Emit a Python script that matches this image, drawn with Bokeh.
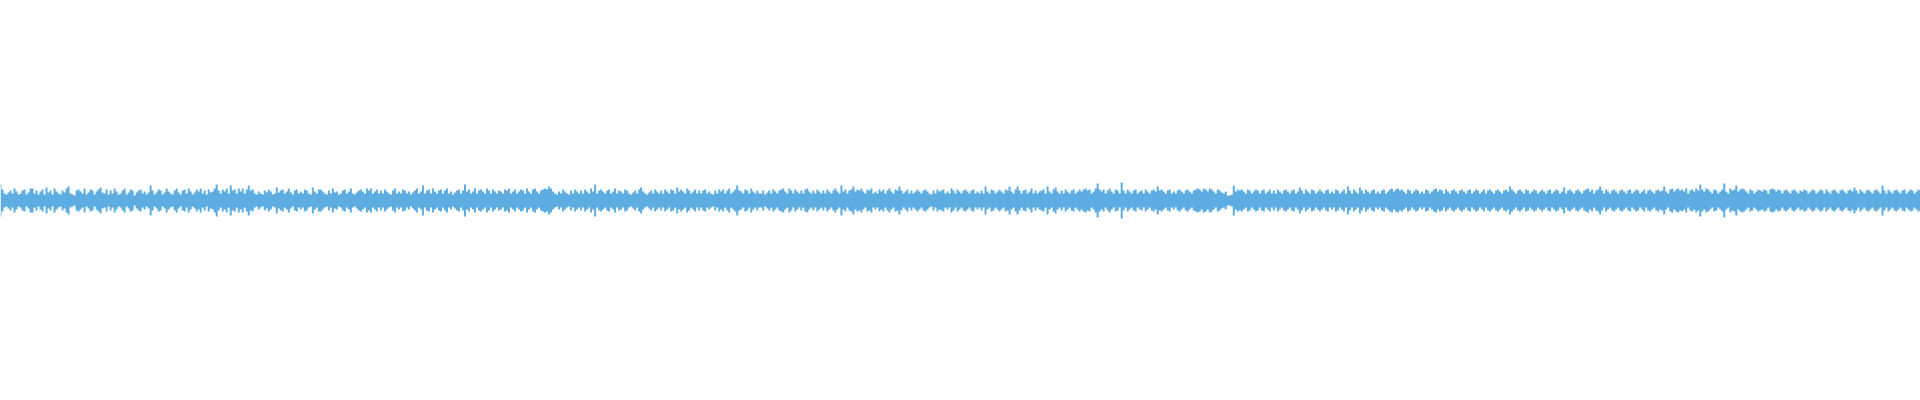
from bokeh.plotting import figure
from bokeh.models import Range1d
from bokeh.embed import file_html
from bokeh.resources import INLINE

# Waveform half-amplitudes, one per bar, left to right
amplitude = [
    16, 11, 7, 6, 8, 10, 7, 12, 9, 6,
    7, 10, 11, 6, 8, 12, 12, 7, 10, 6,
    9, 11, 6, 13, 8, 10, 6, 12, 9, 7,
    6, 10, 8, 12, 14, 7, 6, 5, 10, 11,
    9, 7, 12, 6, 8, 11, 10, 6, 9, 11,
    13, 8, 7, 11, 6, 10, 7, 12, 9, 6,
    7, 10, 12, 6, 8, 11, 10, 5, 8, 10,
    11, 7, 9, 6, 8, 15, 10, 6, 8, 11,
    10, 6, 8, 12, 9, 7, 6, 10, 12, 8,
    6, 10, 11, 7, 12, 9, 6, 8, 11, 9,
    12, 7, 10, 6, 11, 8, 9, 12, 16, 10,
    7, 11, 9, 12, 7, 15, 10, 11, 7, 12,
    9, 12, 7, 11, 15, 10, 11, 7, 6, 9,
    7, 6, 10, 8, 11, 9, 6, 7, 13, 8,
    10, 11, 7, 9, 12, 8, 6, 10, 11, 7,
    9, 7, 11, 10, 7, 6, 13, 9, 7, 11,
    11, 9, 7, 6, 10, 7, 12, 8, 9, 6,
    7, 10, 11, 7, 9, 12, 7, 6, 8, 10,
    11, 9, 7, 12, 10, 12, 7, 9, 11, 7,
    10, 7, 11, 9, 7, 6, 10, 12, 7, 9,
    7, 11, 10, 7, 9, 6, 8, 10, 12, 7,
    9, 15, 7, 10, 11, 7, 12, 9, 7, 10,
    11, 7, 10, 12, 7, 9, 6, 8, 10, 11,
    7, 10, 16, 9, 11, 7, 9, 12, 7, 10,
    11, 9, 7, 12, 10, 7, 11, 9, 7, 10,
    9, 7, 11, 10, 12, 7, 9, 11, 7, 9,
    11, 10, 7, 12, 9, 7, 11, 12, 9, 7,
    10, 11, 12, 11, 14, 12, 9, 7, 6, 9,
    7, 11, 9, 7, 6, 10, 7, 11, 9, 7,
    10, 7, 11, 9, 7, 12, 9, 16, 7, 10,
    11, 9, 7, 10, 11, 7, 9, 12, 7, 10,
    9, 7, 11, 10, 7, 6, 8, 10, 7, 11,
    13, 9, 7, 6, 8, 10, 7, 11, 9, 7,
    10, 7, 11, 9, 7, 11, 10, 7, 13, 9,
    11, 9, 7, 12, 10, 7, 9, 11, 7, 10,
    7, 10, 11, 7, 9, 7, 6, 10, 7, 11,
    9, 11, 7, 10, 12, 7, 9, 11, 15, 10,
    9, 7, 11, 10, 7, 12, 9, 7, 10, 7,
    7, 10, 6, 8, 10, 7, 11, 9, 7, 10,
    11, 12, 9, 7, 12, 10, 7, 11, 9, 7,
    10, 7, 11, 12, 9, 7, 10, 7, 11, 9,
    7, 10, 7, 11, 9, 7, 10, 12, 9, 7,
    15, 9, 11, 7, 10, 11, 14, 9, 11, 10,
    12, 9, 7, 11, 10, 12, 7, 9, 7, 11,
    9, 11, 7, 10, 12, 9, 7, 11, 10, 14,
    10, 7, 9, 11, 7, 10, 7, 9, 11, 9,
    7, 10, 11, 9, 7, 6, 10, 7, 11, 9,
    10, 11, 7, 9, 7, 12, 10, 7, 11, 9,
    7, 10, 11, 9, 7, 10, 11, 7, 9, 7,
    10, 7, 14, 9, 7, 11, 10, 7, 9, 11,
    9, 7, 11, 10, 14, 9, 7, 11, 14, 10,
    7, 10, 11, 7, 9, 12, 7, 10, 7, 9,
    10, 11, 7, 14, 9, 7, 11, 13, 9, 7,
    10, 7, 11, 9, 7, 10, 11, 7, 9, 11,
    9, 11, 12, 10, 11, 7, 9, 12, 17, 11,
    9, 11, 7, 10, 12, 9, 7, 11, 10, 7,
    18, 10, 7, 11, 9, 7, 10, 11, 7, 9,
    10, 7, 11, 9, 7, 10, 11, 9, 14, 10,
    11, 9, 7, 10, 11, 7, 9, 7, 10, 11,
    9, 7, 10, 11, 9, 7, 10, 11, 12, 11,
    9, 12, 11, 9, 12, 11, 9, 7, 11, 10,
    8, 7, 9, 5, 5, 6, 15, 9, 11, 10,
    11, 9, 7, 11, 10, 7, 9, 11, 10, 7,
    10, 11, 7, 9, 11, 7, 10, 7, 11, 9,
    7, 10, 11, 9, 7, 10, 11, 7, 9, 13,
    10, 7, 11, 9, 7, 11, 10, 7, 9, 11,
    9, 7, 10, 11, 7, 9, 7, 11, 10, 7,
    9, 11, 7, 14, 10, 7, 11, 9, 7, 13,
    10, 7, 11, 9, 7, 10, 11, 7, 9, 7,
    10, 11, 7, 9, 11, 12, 9, 11, 12, 10,
    11, 9, 7, 11, 10, 7, 9, 11, 10, 7,
    9, 7, 11, 10, 7, 9, 11, 12, 9, 11,
    10, 7, 11, 9, 7, 10, 11, 9, 7, 10,
    11, 9, 7, 10, 11, 7, 9, 11, 10, 7,
    9, 11, 7, 10, 11, 9, 7, 10, 11, 9,
    7, 10, 11, 9, 14, 11, 9, 7, 10, 11,
    9, 7, 11, 10, 7, 9, 11, 10, 7, 9,
    11, 9, 7, 10, 11, 7, 9, 11, 10, 7,
    9, 13, 7, 10, 11, 9, 7, 10, 11, 9,
    7, 10, 11, 12, 9, 11, 7, 10, 11, 14,
    10, 7, 11, 9, 7, 10, 11, 9, 7, 10,
    11, 9, 7, 10, 11, 7, 9, 11, 10, 7,
    9, 11, 7, 10, 11, 9, 7, 10, 11, 9,
    10, 14, 9, 7, 11, 12, 9, 11, 12, 10,
    11, 9, 12, 7, 10, 11, 9, 12, 10, 16,
    11, 9, 12, 11, 9, 7, 11, 10, 7, 9,
    11, 17, 9, 7, 12, 10, 11, 15, 9, 11,
    12, 11, 9, 7, 11, 10, 7, 9, 11, 10,
    9, 11, 10, 7, 11, 12, 11, 9, 11, 10,
    7, 10, 11, 9, 7, 10, 11, 9, 7, 10,
    9, 11, 10, 7, 9, 11, 10, 7, 9, 11,
    10, 7, 11, 9, 7, 10, 11, 9, 7, 10,
    11, 9, 7, 10, 11, 9, 13, 10, 7, 11,
    9, 7, 10, 11, 9, 7, 10, 11, 9, 7,
    15, 10, 7, 11, 9, 7, 10, 11, 9, 7,
    10, 11, 7, 9, 11, 10, 7, 9, 11, 10,
]

n = len(amplitude)
x = list(range(n))
top = list(amplitude)
bottom = [-a for a in amplitude]

p = figure(width=1920, height=400, output_backend="svg", toolbar_location=None,
           x_range=Range1d(0, n - 1), y_range=Range1d(-200, 200),
           min_border=0, min_border_left=0, min_border_right=0,
           min_border_top=0, min_border_bottom=0)
p.axis.visible = False
p.grid.visible = False
p.outline_line_color = None
p.background_fill_color = "white"
p.border_fill_color = "white"

p.varea_step(x=x, y1=bottom, y2=top, step_mode="center",
             fill_color="#5dade2")

open("out.html", "w").write(file_html(p, INLINE))
